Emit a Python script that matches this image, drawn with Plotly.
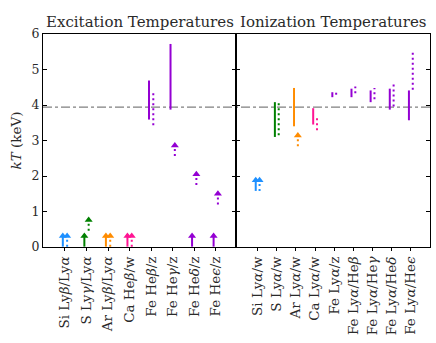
import plotly.graph_objects as go

# ---------------- data ----------------
LEFT_CATS = ["Si Ly<i>β</i>/Ly<i>α</i>", "S Ly<i>γ</i>/Ly<i>α</i>", "Ar Ly<i>β</i>/Ly<i>α</i>",
             "Ca He<i>β</i>/w", "Fe He<i>β</i>/z", "Fe He<i>γ</i>/z", "Fe He<i>δ</i>/z", "Fe He<i>ϵ</i>/z"]
RIGHT_CATS = ["Si Ly<i>α</i>/w", "S Ly<i>α</i>/w", "Ar Ly<i>α</i>/w", "Ca Ly<i>α</i>/w", "Fe Ly<i>α</i>/z",
              "Fe Ly<i>α</i>/He<i>β</i>", "Fe Ly<i>α</i>/He<i>γ</i>", "Fe Ly<i>α</i>/He<i>δ</i>",
              "Fe Ly<i>α</i>/He<i>ϵ</i>"]

LEFT_COLORS = ["#1E90FF", "#008000", "#FF8C00", "#FF1493",
               "#9400D3", "#9400D3", "#9400D3", "#9400D3"]
RIGHT_COLORS = ["#1E90FF", "#008000", "#FF8C00", "#FF1493",
                "#9400D3", "#9400D3", "#9400D3", "#9400D3", "#9400D3"]

# solid (method A) : low, high ; low=None -> lower limit at high
left_solid_lo = [None, None, None, None, 3.59, 3.87, None, None]
left_solid_hi = [0.36, 0.36, 0.36, 0.36, 4.69, 5.72, 0.36, 0.36]
# dotted (method B)
left_dot_lo = [None, None, None, None, 3.43, None, None, None]
left_dot_hi = [0.36, 0.81, 0.36, 0.36, 4.39, 2.91, 2.10, 1.55]

right_solid_lo = [None, 3.10, 3.40, 3.45, 4.22, 4.22, 4.08, 3.87, 3.57]
right_solid_hi = [1.93, 4.08, 4.48, 3.91, 4.36, 4.46, 4.41, 4.46, 4.41]
right_dot_lo = [None, 3.15, None, 3.29, 4.29, 4.33, 4.16, 3.96, 4.43]
right_dot_hi = [1.93, 4.13, 3.19, 3.71, 4.43, 4.52, 4.48, 4.62, 5.51]

REF_KT = 3.94

# ---------------- style ----------------
ARROW_LEN = 0.35
OFF = 0.1
FONT = "DejaVu Serif"
TXT = "#2a2a2a"

fig = go.Figure()


def add_panel(lo_s, hi_s, lo_d, hi_d, colors, xa, ya):
    for i, c in enumerate(colors):
        for lo, hi, dx, dash in ((lo_s[i], hi_s[i], -OFF, "solid"),
                                 (lo_d[i], hi_d[i], OFF, "2px,3px")):
            x = i + dx
            limit = lo is None
            y0 = hi - ARROW_LEN if limit else lo
            fig.add_trace(go.Scatter(x=[x, x], y=[max(y0, 0), hi], mode="lines",
                                     line=dict(color=c, width=2, dash=dash),
                                     xaxis=xa, yaxis=ya, showlegend=False, hoverinfo="skip"))
            if limit:
                fig.add_trace(go.Scatter(x=[x], y=[hi - 0.05], mode="markers",
                                         marker=dict(symbol="triangle-up", size=7, color=c),
                                         xaxis=xa, yaxis=ya, showlegend=False, hoverinfo="skip"))


add_panel(left_solid_lo, left_solid_hi, left_dot_lo, left_dot_hi, LEFT_COLORS, "x", "y")
add_panel(right_solid_lo, right_solid_hi, right_dot_lo, right_dot_hi, RIGHT_COLORS, "x2", "y2")

split = (236 - 43) / 387

y_common = dict(showline=True, linecolor="black", linewidth=1.2, mirror="ticks",
                ticks="inside", ticklen=4, tickcolor="black", showgrid=False, zeroline=False,
                automargin=False)
x_common = dict(showline=True, linecolor="black", linewidth=1.2, mirror=True,
                ticks="outside", ticklen=3, tickcolor="black", showgrid=False, zeroline=False,
                automargin=False, tickangle=-90)
xfont = dict(family=FONT, size=13.5, color=TXT)
yfont = dict(family=FONT, size=12.5, color=TXT)

fig.update_layout(
    width=436, height=343,
    margin=dict(l=43, r=6, t=34, b=96),
    paper_bgcolor="white", plot_bgcolor="white",
    font=dict(family=FONT, size=12, color=TXT),
    xaxis=dict(domain=[0, split], range=[-1.02, 7.94], tickvals=list(range(len(LEFT_CATS))),
               ticktext=LEFT_CATS, tickfont=xfont, **x_common),
    xaxis2=dict(domain=[split, 1], range=[-1.13, 9.0], tickvals=list(range(len(RIGHT_CATS))),
                ticktext=RIGHT_CATS, anchor="y2", tickfont=xfont, **x_common),
    yaxis=dict(range=[0, 6], tickvals=[0, 1, 2, 3, 4, 5, 6], tickfont=yfont,
               title=dict(text="<i>kT</i> (keV)", font=dict(family=FONT, size=13.5, color=TXT), standoff=6),
               **y_common),
    yaxis2=dict(range=[0, 6], tickvals=[0, 1, 2, 3, 4, 5, 6], anchor="x2", matches="y",
                showticklabels=False, **y_common),
    shapes=[dict(type="line", xref="paper", yref="y", x0=0, x1=1, y0=REF_KT, y1=REF_KT,
                 line=dict(color="gray", width=1.3, dash="dashdot"), layer="below")],
    annotations=[
        dict(text="Excitation Temperatures", xref="paper", yref="paper", x=split / 2, y=1.0,
             xanchor="center", yanchor="bottom", yshift=1, showarrow=False,
             font=dict(family=FONT, size=15, color=TXT)),
        dict(text="Ionization Temperatures", xref="paper", yref="paper", x=(1 + split) / 2, y=1.0,
             xanchor="center", yanchor="bottom", yshift=1, showarrow=False,
             font=dict(family=FONT, size=15, color=TXT)),
    ],
)

fig.write_html("out.html", config={"displayModeBar": False},
               post_script="document.body.style.margin='0';")
